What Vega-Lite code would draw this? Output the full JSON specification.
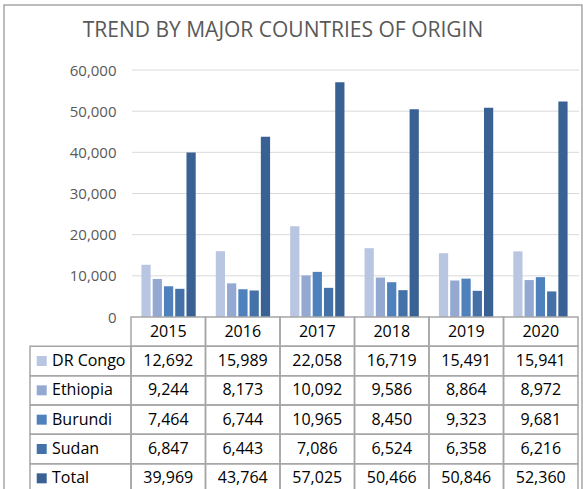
{
  "$schema": "https://vega.github.io/schema/vega-lite/v6.json",
  "width": 578,
  "height": 486,
  "autosize": {"type": "none"},
  "padding": {"left": 4, "top": 5, "right": 1, "bottom": 0},
  "background": "white",
  "config": {
    "font": "Open Sans",
    "view": {"stroke": "#a6a6a6", "strokeWidth": 1.5}
  },
  "title": {
    "text": "TREND BY MAJOR COUNTRIES OF ORIGIN",
    "font": "Open Sans",
    "fontSize": 21,
    "fontWeight": "normal",
    "color": "#595959",
    "anchor": "middle",
    "baseline": "alphabetic",
    "offset": -53,
    "dx": -10
  },
  "datasets": {
    "main": [
      {"year": "2015", "series": "DR Congo", "value": 12692},
      {"year": "2015", "series": "Ethiopia", "value": 9244},
      {"year": "2015", "series": "Burundi", "value": 7464},
      {"year": "2015", "series": "Sudan", "value": 6847},
      {"year": "2015", "series": "Total", "value": 39969},
      {"year": "2016", "series": "DR Congo", "value": 15989},
      {"year": "2016", "series": "Ethiopia", "value": 8173},
      {"year": "2016", "series": "Burundi", "value": 6744},
      {"year": "2016", "series": "Sudan", "value": 6443},
      {"year": "2016", "series": "Total", "value": 43764},
      {"year": "2017", "series": "DR Congo", "value": 22058},
      {"year": "2017", "series": "Ethiopia", "value": 10092},
      {"year": "2017", "series": "Burundi", "value": 10965},
      {"year": "2017", "series": "Sudan", "value": 7086},
      {"year": "2017", "series": "Total", "value": 57025},
      {"year": "2018", "series": "DR Congo", "value": 16719},
      {"year": "2018", "series": "Ethiopia", "value": 9586},
      {"year": "2018", "series": "Burundi", "value": 8450},
      {"year": "2018", "series": "Sudan", "value": 6524},
      {"year": "2018", "series": "Total", "value": 50466},
      {"year": "2019", "series": "DR Congo", "value": 15491},
      {"year": "2019", "series": "Ethiopia", "value": 8864},
      {"year": "2019", "series": "Burundi", "value": 9323},
      {"year": "2019", "series": "Sudan", "value": 6358},
      {"year": "2019", "series": "Total", "value": 50846},
      {"year": "2020", "series": "DR Congo", "value": 15941},
      {"year": "2020", "series": "Ethiopia", "value": 8972},
      {"year": "2020", "series": "Burundi", "value": 9681},
      {"year": "2020", "series": "Sudan", "value": 6216},
      {"year": "2020", "series": "Total", "value": 52360}
    ],
    "years": [
      {"year": "2015"}, {"year": "2016"}, {"year": "2017"},
      {"year": "2018"}, {"year": "2019"}, {"year": "2020"}
    ],
    "series": [
      {"series": "DR Congo"}, {"series": "Ethiopia"}, {"series": "Burundi"},
      {"series": "Sudan"}, {"series": "Total"}
    ],
    "grid": [
      {"g": 10000}, {"g": 20000}, {"g": 30000}, {"g": 40000}, {"g": 50000}, {"g": 60000}
    ]
  },
  "resolve": {"scale": {"x": "independent", "y": "independent"}},
  "layer": [
    {
      "data": {"name": "grid"},
      "mark": {"type": "rule", "color": "#d9d9d9", "strokeWidth": 1},
      "encoding": {
        "y": {"field": "g", "type": "quantitative", "scale": {"domain": [0, 60000], "range": [312, 65]}, "axis": null},
        "x": {"datum": 0, "type": "quantitative", "scale": {"domain": [0, 1], "range": [128, 575]}, "axis": null},
        "x2": {"datum": 1}
      }
    },
    {
      "data": {"name": "main"},
      "mark": {"type": "bar"},
      "encoding": {
        "x": {"field": "year", "type": "nominal", "scale": {"domain": ["2015", "2016", "2017", "2018", "2019", "2020"], "range": [127, 574], "paddingInner": 0.27, "paddingOuter": 0.14}, "axis": null},
        "xOffset": {"field": "series", "type": "nominal", "sort": ["DR Congo", "Ethiopia", "Burundi", "Sudan", "Total"], "scale": {"domain": ["DR Congo", "Ethiopia", "Burundi", "Sudan", "Total"], "paddingInner": 0.18, "paddingOuter": 0}},
        "y": {"field": "value", "type": "quantitative", "scale": {"domain": [0, 60000], "range": [312, 65]},
          "axis": {"orient": "left", "offset": -127, "grid": false, "domain": false, "ticks": false, "labelPadding": 15,
            "values": [0, 10000, 20000, 30000, 40000, 50000, 60000], "labelExpr": "format(datum.value, ',')", "labelFont": "Open Sans", "labelFontSize": 15, "labelColor": "#595959", "title": null}},
        "color": {"field": "series", "type": "nominal", "scale": {"domain": ["DR Congo", "Ethiopia", "Burundi", "Sudan", "Total"], "range": ["#b9c6e2", "#93a9d2", "#4f81bd", "#4472a8", "#3a6193"]}, "legend": null}
      }
    },
    {
      "data": {"name": "main"},
      "mark": {"type": "rect", "fill": "transparent", "stroke": "#a6a6a6", "strokeWidth": 1.5},
      "encoding": {
        "x": {"field": "year", "type": "nominal", "scale": {"domain": ["2015", "2016", "2017", "2018", "2019", "2020"], "range": [127, 574], "paddingInner": 0, "paddingOuter": 0}, "axis": null},
        "y": {"field": "series", "type": "nominal", "scale": {"domain": ["hdr", "DR Congo", "Ethiopia", "Burundi", "Sudan", "Total"], "range": [312, 488], "paddingInner": 0, "paddingOuter": 0}, "axis": null}
      }
    },
    {
      "data": {"name": "main"},
      "mark": {"type": "text", "fontSize": 16, "color": "#000000", "align": "center", "baseline": "middle"},
      "encoding": {
        "x": {"field": "year", "type": "nominal", "scale": {"domain": ["2015", "2016", "2017", "2018", "2019", "2020"], "range": [127, 574], "paddingInner": 0, "paddingOuter": 0}, "axis": null},
        "y": {"field": "series", "type": "nominal", "scale": {"domain": ["hdr", "DR Congo", "Ethiopia", "Burundi", "Sudan", "Total"], "range": [312, 488], "paddingInner": 0, "paddingOuter": 0}, "axis": null},
        "text": {"field": "value", "type": "quantitative", "format": ","}
      }
    },
    {
      "data": {"name": "years"},
      "mark": {"type": "rect", "fill": "transparent", "stroke": "#a6a6a6", "strokeWidth": 1.5},
      "encoding": {
        "x": {"field": "year", "type": "nominal", "scale": {"domain": ["2015", "2016", "2017", "2018", "2019", "2020"], "range": [127, 574], "paddingInner": 0, "paddingOuter": 0}, "axis": null},
        "y": {"datum": "hdr", "type": "nominal", "scale": {"domain": ["hdr", "DR Congo", "Ethiopia", "Burundi", "Sudan", "Total"], "range": [312, 488], "paddingInner": 0, "paddingOuter": 0}, "axis": null}
      }
    },
    {
      "data": {"name": "years"},
      "mark": {"type": "text", "fontSize": 16, "color": "#000000", "align": "center", "baseline": "middle"},
      "encoding": {
        "x": {"field": "year", "type": "nominal", "scale": {"domain": ["2015", "2016", "2017", "2018", "2019", "2020"], "range": [127, 574], "paddingInner": 0, "paddingOuter": 0}, "axis": null},
        "y": {"datum": "hdr", "type": "nominal", "scale": {"domain": ["hdr", "DR Congo", "Ethiopia", "Burundi", "Sudan", "Total"], "range": [312, 488], "paddingInner": 0, "paddingOuter": 0}, "axis": null},
        "text": {"field": "year", "type": "nominal"}
      }
    },
    {
      "data": {"name": "series"},
      "mark": {"type": "rect", "fill": "transparent", "stroke": "#a6a6a6", "strokeWidth": 1.5},
      "encoding": {
        "x": {"datum": 0, "type": "quantitative", "scale": {"domain": [0, 1], "range": [26, 127]}, "axis": null},
        "x2": {"datum": 1},
        "y": {"field": "series", "type": "nominal", "scale": {"domain": ["hdr", "DR Congo", "Ethiopia", "Burundi", "Sudan", "Total"], "range": [312, 488], "paddingInner": 0, "paddingOuter": 0}, "axis": null}
      }
    },
    {
      "data": {"name": "series"},
      "mark": {"type": "point", "shape": "square", "filled": true, "size": 100, "opacity": 1},
      "encoding": {
        "x": {"datum": 0.116, "type": "quantitative", "scale": {"domain": [0, 1], "range": [26, 127]}, "axis": null},
        "y": {"field": "series", "type": "nominal", "scale": {"domain": ["hdr", "DR Congo", "Ethiopia", "Burundi", "Sudan", "Total"], "range": [312, 488], "paddingInner": 0, "paddingOuter": 0}, "axis": null},
        "color": {"field": "series", "type": "nominal", "scale": {"domain": ["DR Congo", "Ethiopia", "Burundi", "Sudan", "Total"], "range": ["#b9c6e2", "#93a9d2", "#4f81bd", "#4472a8", "#3a6193"]}, "legend": null}
      }
    },
    {
      "data": {"name": "series"},
      "mark": {"type": "text", "fontSize": 16, "color": "#000000", "align": "left", "baseline": "middle"},
      "encoding": {
        "x": {"datum": 0.218, "type": "quantitative", "scale": {"domain": [0, 1], "range": [26, 127]}, "axis": null},
        "y": {"field": "series", "type": "nominal", "scale": {"domain": ["hdr", "DR Congo", "Ethiopia", "Burundi", "Sudan", "Total"], "range": [312, 488], "paddingInner": 0, "paddingOuter": 0}, "axis": null},
        "text": {"field": "series", "type": "nominal"}
      }
    }
  ]
}
